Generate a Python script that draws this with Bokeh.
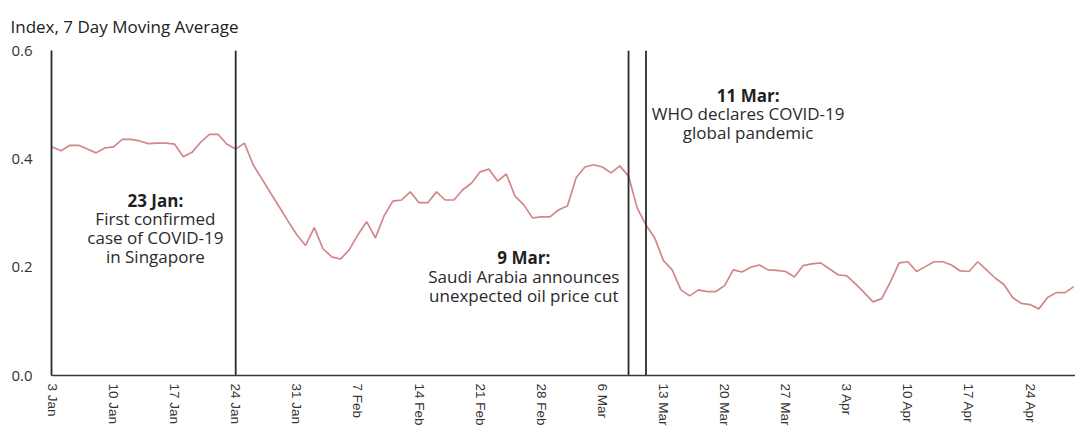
import pandas as pd
from bokeh.plotting import figure
from bokeh.models import Range1d, FixedTicker
from bokeh.core.properties import value
from bokeh.embed import file_html
from bokeh.resources import INLINE

# ---- data ----
start_date = "2020-01-03"
index_values = [
    0.422, 0.415, 0.425, 0.425, 0.418, 0.411, 0.420, 0.422, 0.436, 0.436,
    0.433, 0.428, 0.429, 0.429, 0.427, 0.404, 0.412, 0.431, 0.445, 0.445,
    0.427, 0.418, 0.429, 0.389, 0.363, 0.337, 0.311, 0.285, 0.260, 0.240,
    0.273, 0.234, 0.219, 0.215, 0.232, 0.260, 0.284, 0.254, 0.295, 0.322,
    0.324, 0.339, 0.319, 0.319, 0.339, 0.324, 0.324, 0.343, 0.355, 0.376,
    0.381, 0.359, 0.372, 0.331, 0.315, 0.291, 0.293, 0.293, 0.306, 0.313,
    0.365, 0.385, 0.389, 0.385, 0.374, 0.387, 0.368, 0.309, 0.278, 0.254,
    0.212, 0.195, 0.158, 0.147, 0.158, 0.155, 0.155, 0.166, 0.195, 0.191,
    0.200, 0.204, 0.195, 0.194, 0.192, 0.182, 0.203, 0.206, 0.208, 0.197,
    0.186, 0.184, 0.169, 0.153, 0.136, 0.142, 0.173, 0.208, 0.210, 0.192,
    0.201, 0.210, 0.210, 0.204, 0.193, 0.192, 0.210, 0.195, 0.180, 0.168,
    0.144, 0.133, 0.131, 0.123, 0.144, 0.153, 0.153, 0.164,
]
tick_dates = ["2020-01-03", "2020-01-10", "2020-01-17", "2020-01-24", "2020-01-31",
              "2020-02-07", "2020-02-14", "2020-02-21", "2020-02-28", "2020-03-06",
              "2020-03-13", "2020-03-20", "2020-03-27", "2020-04-03", "2020-04-10",
              "2020-04-17", "2020-04-24"]
tick_labels = ["3 Jan", "10 Jan", "17 Jan", "24 Jan", "31 Jan", "7 Feb", "14 Feb",
               "21 Feb", "28 Feb", "6 Mar", "13 Mar", "20 Mar", "27 Mar", "3 Apr",
               "10 Apr", "17 Apr", "24 Apr"]
y_ticks = [0.0, 0.2, 0.4, 0.6]
y_tick_labels = ["0.0", "0.2", "0.4", "0.6"]

event_dates = ["2020-01-24", "2020-03-09", "2020-03-11"]
event_titles = ["23 Jan:", "9 Mar:", "11 Mar:"]
event_bodies = [["First confirmed", "case of COVID-19", "in Singapore"],
                ["Saudi Arabia announces", "unexpected oil price cut"],
                ["WHO declares COVID-19", "global pandemic"]]

# ---- layout anchors for the annotation blocks (days since start, index units) ----
text_days = [11.8, 54.0, 79.7]
event_text_tops = [0.324, 0.217, 0.5175]

# ---- derived ----
t0 = pd.Timestamp(start_date)
dates = pd.date_range(start_date, periods=len(index_values), freq="D")
days = [(d - t0).days for d in dates]
tick_days = [(pd.Timestamp(d) - t0).days for d in tick_dates]
event_days = [(pd.Timestamp(d) - t0).days for d in event_dates]

p = figure(width=1075, height=428, output_backend="svg", toolbar_location=None,
           x_range=Range1d(-0.1, 117.2), y_range=Range1d(0, 0.6),
           min_border_left=51, min_border_right=0, min_border_top=50, min_border_bottom=52)
p.outline_line_color = None
p.xgrid.visible = False
p.ygrid.visible = False
p.background_fill_color = "white"
p.border_fill_color = "white"

# title
p.title.text = "Index, 7 Day Moving Average"
p.title.align = "left"
p.title.offset = -41
p.title.standoff = 25
p.title.text_font = "Open Sans"
p.title.text_font_size = "17px"
p.title.text_font_style = "normal"
p.title.text_color = "#222222"

# line
p.line(days, index_values, line_color="#d3868a", line_width=1.7)

# event lines
p.segment(x0=event_days, y0=[0] * 3, x1=event_days, y1=[0.6] * 3,
          line_color="#2b2b2b", line_width=1.8)

# annotations
line_step = 0.0345
for xd, title, body, top in zip(text_days, event_titles, event_bodies, event_text_tops):
    p.text(x=[xd], y=[top], text=[title], text_align="center", text_baseline="middle",
           text_font=value("Open Sans"), text_font_size="17px", text_font_style="bold",
           text_color="#1f1f1f")
    ys = [top - line_step * (i + 1) for i in range(len(body))]
    p.text(x=[xd] * len(body), y=ys, text=body, text_align="center", text_baseline="middle",
           text_font=value("Open Sans"), text_font_size="17px", text_color="#2a2a2a")

# axes
xa = p.xaxis[0]
xa.ticker = FixedTicker(ticks=tick_days)
xa.major_label_overrides = {d: l for d, l in zip(tick_days, tick_labels)}
xa.major_label_orientation = "vertical"
xa.major_label_text_font = "Liberation Sans"
xa.major_label_text_font_size = "13.5px"
xa.major_label_text_color = "#333333"
xa.major_label_standoff = 8
xa.major_tick_line_color = None
xa.minor_tick_line_color = None
xa.axis_line_color = "#3a3a3a"
xa.axis_line_width = 1.6
xa.major_tick_out = 0
xa.major_tick_in = 0

ya = p.yaxis[0]
ya.ticker = FixedTicker(ticks=y_ticks)
ya.major_label_overrides = {t: l for t, l in zip(y_ticks, y_tick_labels)}
ya.major_label_text_font = "Open Sans"
ya.major_label_text_font_size = "15px"
ya.major_label_text_color = "#333333"
ya.major_label_standoff = 19
ya.major_tick_line_color = None
ya.minor_tick_line_color = None
ya.major_tick_out = 0
ya.major_tick_in = 0
ya.axis_line_color = "#2b2b2b"
ya.axis_line_width = 1.8

open("out.html", "w").write(file_html(p, INLINE))
